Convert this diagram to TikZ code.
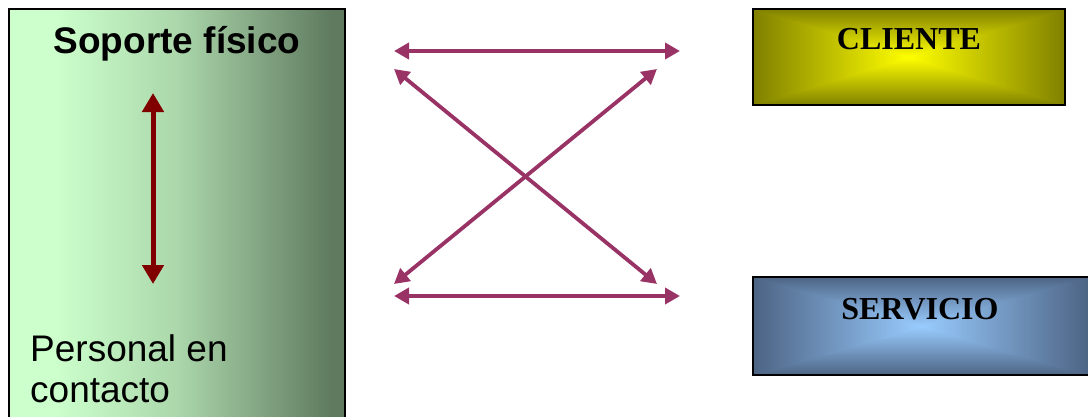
\documentclass[tikz,border=0pt]{standalone}
\usepackage{fontspec}
\setmainfont{Liberation Sans}
\newfontfamily\serifb{Liberation Serif}
\usetikzlibrary{arrows.meta}
\definecolor{sopL}{HTML}{CCFFCC}
\definecolor{sopM}{HTML}{7A9A7A}
\definecolor{sopR}{HTML}{5F7A5F}
\definecolor{cliE}{HTML}{808000}
\definecolor{cliC}{HTML}{FFFF00}
\definecolor{serE}{HTML}{4D6484}
\definecolor{serC}{HTML}{99CCFF}
\definecolor{plum}{HTML}{993366}
\definecolor{dred}{HTML}{800000}
\pgfdeclarehorizontalshading{soporte}{100bp}{color(0bp)=(sopL); color(32bp)=(sopL); color(50bp)=(sopL!70!sopR); color(65bp)=(sopM); color(73bp)=(sopR); color(100bp)=(sopR)}
\tikzset{
  plumarrow/.style={draw=plum, line width=3.8pt, {Triangle[length=15pt,width=16pt]}-{Triangle[length=15pt,width=16pt]}},
  redarrow/.style={draw=dred, line width=5pt, {Triangle[length=19pt,width=21pt]}-{Triangle[length=19pt,width=21pt]}},
  boxborder/.style={draw=black, line width=1.8pt},
  sanslabel/.style={inner sep=0pt, font=\fontsize{37}{41}\selectfont},
  seriflabel/.style={inner sep=0pt, font=\serifb\bfseries\fontsize{32}{36}\selectfont},
}
\begin{document}
\begin{tikzpicture}[x=1pt,y=-1pt]
\useasboundingbox (0,0) rectangle (1088,416);
\clip (0,0) rectangle (1088,416);
% left box
\shade[shading=soporte] (9,9) rectangle (345,430);
\draw[boxborder] (9,9) rectangle (345,430);
\node[sanslabel, font=\bfseries\fontsize{37}{41}\selectfont, anchor=base] (sop) at (177,53) {Soporte físico};
\node[sanslabel, anchor=base west] (per1) at (30,361) {Personal en};
\node[sanslabel, anchor=base west] (per2) at (30,402) {contacto};
\coordinate (rt) at (153,93);
\coordinate (rb) at (153,284);
\draw[redarrow] (rt) -- (rb);
% CLIENTE box
\shade[left color=cliE, right color=cliC] (753,9) rectangle (909.5,105);
\shade[left color=cliC, right color=cliE] (908.5,9) rectangle (1065,105);
\shade[top color=cliE, bottom color=cliC] (753,9) -- (1065,9) -- (909,57) -- cycle;
\shade[top color=cliC, bottom color=cliE] (753,105) -- (1065,105) -- (909,57) -- cycle;
\draw[boxborder] (753,9) rectangle (1065,105);
\node[seriflabel, anchor=base] (cli) at (909,49) {CLIENTE};
% SERVICIO box
\shade[left color=serE, right color=serC] (753,277) rectangle (921.5,375);
\shade[left color=serC, right color=serE] (920.5,277) rectangle (1089,375);
\shade[top color=serE, bottom color=serC] (753,277) -- (1089,277) -- (921,326) -- cycle;
\shade[top color=serC, bottom color=serE] (753,375) -- (1089,375) -- (921,326) -- cycle;
\draw[boxborder] (753,277) rectangle (1089,375);
\node[seriflabel, anchor=base] (ser) at (920,319) {SERVICIO};
% arrows
\coordinate (a1) at (394,51);
\coordinate (a2) at (680,51);
\coordinate (b1) at (394,296);
\coordinate (b2) at (680,296);
\coordinate (c1) at (394,69);
\coordinate (c2) at (657,284);
\coordinate (d1) at (657,69);
\coordinate (d2) at (394,284);
\draw[plumarrow] (a1) -- (a2);
\draw[plumarrow] (b1) -- (b2);
\draw[plumarrow] (c1) -- (c2);
\draw[plumarrow] (d1) -- (d2);
\end{tikzpicture}
\end{document}
